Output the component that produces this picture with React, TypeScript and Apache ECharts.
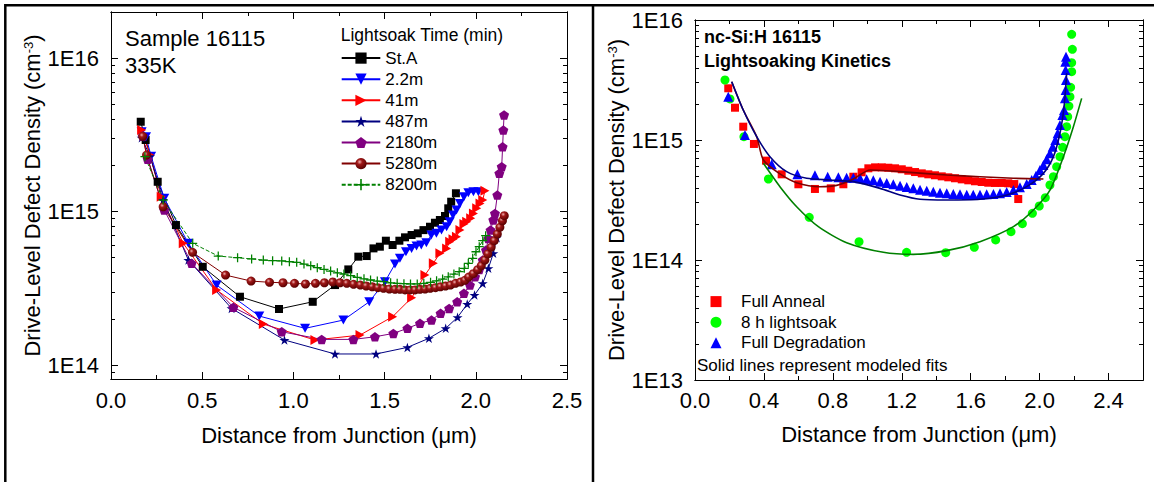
import React, { useEffect, useRef } from 'react';
import * as echarts from 'echarts';

const FONT = '"Liberation Sans", Arial, Helvetica, sans-serif';

// ---- Left panel: [distance from junction (µm), log10 drive-level defect density (cm^-3)]
const stA: [number, number][] = [[0.163,15.585],[0.190,15.466],[0.256,15.194],[0.356,14.912],[0.503,14.640],[0.707,14.445],[0.921,14.365],[1.106,14.412],[1.228,14.521],[1.301,14.623],[1.356,14.706],[1.402,14.710],[1.439,14.760],[1.474,14.771],[1.507,14.810],[1.544,14.782],[1.581,14.810],[1.612,14.832],[1.648,14.847],[1.682,14.858],[1.713,14.879],[1.749,14.901],[1.776,14.927],[1.803,14.945],[1.831,14.971],[1.849,15.021],[1.865,15.064],[1.891,15.119]];
const m2_2: [number, number][] = [[0.168,15.520],[0.192,15.487],[0.220,15.360],[0.292,15.086],[0.424,14.793],[0.579,14.521],[0.813,14.319],[1.064,14.239],[1.274,14.293],[1.416,14.412],[1.502,14.543],[1.557,14.658],[1.584,14.695],[1.617,14.738],[1.648,14.760],[1.675,14.775],[1.701,14.782],[1.729,14.797],[1.756,14.847],[1.784,14.858],[1.812,14.879],[1.840,14.901],[1.857,14.934],[1.875,14.977],[1.894,15.010],[1.913,15.053],[1.935,15.096],[1.959,15.122],[1.987,15.129],[2.014,15.129]];
const m41: [number, number][] = [[0.168,15.531],[0.214,15.368],[0.275,15.096],[0.396,14.793],[0.579,14.489],[0.835,14.267],[1.118,14.163],[1.365,14.195],[1.544,14.315],[1.648,14.438],[1.721,14.586],[1.767,14.663],[1.803,14.728],[1.840,14.760],[1.857,14.803],[1.875,14.819],[1.894,14.836],[1.913,14.879],[1.935,14.919],[1.950,14.934],[1.972,14.956],[1.987,14.988],[2.005,15.021],[2.023,15.053],[2.038,15.075],[2.050,15.135]];
const m487: [number, number][] = [[0.168,15.480],[0.214,15.360],[0.286,15.075],[0.424,14.684],[0.661,14.369],[0.951,14.163],[1.228,14.072],[1.453,14.072],[1.625,14.115],[1.743,14.174],[1.835,14.239],[1.900,14.311],[1.953,14.397],[1.993,14.456],[2.038,14.532],[2.069,14.630],[2.096,14.728],[2.115,14.830]];
const m2180: [number, number][] = [[0.174,15.492],[0.201,15.340],[0.292,15.010],[0.442,14.663],[0.671,14.376],[0.936,14.217],[1.155,14.167],[1.329,14.167],[1.447,14.184],[1.548,14.206],[1.625,14.239],[1.694,14.272],[1.757,14.293],[1.807,14.337],[1.854,14.369],[1.898,14.412],[1.935,14.467],[1.968,14.521],[1.996,14.575],[2.019,14.623],[2.038,14.684],[2.056,14.749],[2.069,14.825],[2.081,14.879],[2.096,14.945],[2.105,14.988],[2.118,15.107],[2.129,15.249],[2.142,15.292],[2.147,15.422],[2.151,15.531],[2.155,15.629]];
const m5280: [number, number][] = [[0.174,15.490],[0.195,15.368],[0.286,15.031],[0.447,14.734],[0.628,14.586],[0.768,14.547],[0.869,14.539],[0.943,14.536],[1.006,14.532],[1.066,14.528],[1.121,14.532],[1.170,14.536],[1.216,14.541],[1.256,14.536],[1.293,14.532],[1.330,14.526],[1.367,14.521],[1.399,14.515],[1.432,14.510],[1.463,14.504],[1.494,14.500],[1.526,14.495],[1.557,14.493],[1.584,14.493],[1.612,14.489],[1.640,14.489],[1.667,14.489],[1.694,14.493],[1.722,14.495],[1.750,14.500],[1.779,14.504],[1.806,14.510],[1.834,14.515],[1.861,14.521],[1.889,14.532],[1.917,14.541],[1.940,14.552],[1.961,14.573],[1.986,14.595],[2.010,14.621],[2.030,14.647],[2.050,14.684],[2.066,14.724],[2.084,14.767],[2.101,14.810],[2.118,14.853],[2.132,14.897],[2.146,14.940],[2.156,14.973]];
const m8200: [number, number][] = [[0.186,15.357],[0.286,15.075],[0.448,14.793],[0.588,14.710],[0.694,14.699],[0.771,14.691],[0.835,14.684],[0.886,14.680],[0.936,14.678],[0.978,14.673],[1.018,14.669],[1.058,14.658],[1.095,14.647],[1.131,14.634],[1.168,14.623],[1.204,14.612],[1.241,14.601],[1.277,14.593],[1.314,14.582],[1.350,14.571],[1.387,14.562],[1.423,14.554],[1.460,14.547],[1.496,14.543],[1.533,14.536],[1.569,14.532],[1.606,14.530],[1.642,14.528],[1.679,14.528],[1.715,14.532],[1.752,14.539],[1.785,14.549],[1.818,14.560],[1.849,14.575],[1.880,14.593],[1.909,14.608],[1.937,14.630],[1.959,14.663],[1.983,14.695],[2.001,14.738],[2.019,14.771],[2.038,14.810],[2.054,14.843]];

// ---- Right panel: [distance (µm), log10 density (cm^-3)]
const fullAnneal: [number, number][] = [[0.193,15.431],[0.232,15.269],[0.280,15.111],[0.342,14.967],[0.412,14.828],[0.503,14.714],[0.600,14.631],[0.696,14.592],[0.788,14.597],[0.861,14.631],[0.919,14.694],[0.967,14.731],[1.006,14.764],[1.045,14.772],[1.084,14.772],[1.122,14.769],[1.161,14.764],[1.200,14.756],[1.238,14.744],[1.277,14.733],[1.316,14.722],[1.354,14.714],[1.393,14.706],[1.432,14.697],[1.470,14.689],[1.509,14.681],[1.548,14.672],[1.586,14.664],[1.625,14.656],[1.664,14.650],[1.702,14.644],[1.741,14.642],[1.780,14.642],[1.818,14.639],[1.853,14.633],[1.876,14.508]];
const lightsoak8h: [number, number][] = [[0.174,15.500],[0.203,15.342],[0.284,15.028],[0.426,14.675],[0.663,14.356],[0.952,14.153],[1.228,14.064],[1.455,14.061],[1.621,14.106],[1.745,14.167],[1.834,14.236],[1.900,14.303],[1.958,14.389],[1.998,14.450],[2.033,14.519],[2.060,14.625],[2.080,14.694],[2.099,14.778],[2.118,14.861],[2.134,14.939],[2.147,15.028],[2.157,15.111],[2.163,15.194],[2.170,15.283],[2.176,15.361],[2.180,15.439],[2.186,15.569],[2.186,15.644],[2.190,15.756],[2.186,15.881]];
const fullDegradation: [number, number][] = [[0.193,15.361],[0.290,15.042],[0.445,14.797],[0.594,14.714],[0.696,14.706],[0.770,14.694],[0.832,14.689],[0.880,14.686],[0.919,14.686],[0.958,14.681],[0.996,14.672],[1.035,14.664],[1.074,14.653],[1.113,14.642],[1.151,14.631],[1.190,14.619],[1.229,14.608],[1.267,14.597],[1.306,14.586],[1.345,14.578],[1.383,14.569],[1.422,14.561],[1.461,14.556],[1.499,14.550],[1.538,14.547],[1.577,14.544],[1.615,14.544],[1.654,14.544],[1.693,14.547],[1.732,14.550],[1.770,14.556],[1.809,14.567],[1.848,14.583],[1.886,14.606],[1.925,14.633],[1.954,14.667],[1.979,14.703],[2.002,14.750],[2.022,14.792],[2.041,14.839],[2.060,14.889],[2.076,14.944],[2.091,15.000],[2.105,15.056],[2.118,15.125],[2.132,15.208],[2.142,15.250],[2.147,15.347],[2.151,15.417],[2.153,15.500],[2.151,15.583],[2.149,15.653],[2.153,15.694]];
const annealFit: [number, number][] = [[0.213,15.486],[0.280,15.250],[0.358,15.028],[0.397,14.833],[0.493,14.717],[0.590,14.644],[0.725,14.611],[0.822,14.622],[0.919,14.675],[1.016,14.750],[1.113,14.744],[1.267,14.728],[1.461,14.708],[1.654,14.694],[1.848,14.681],[2.022,14.675]];
const degradationFit: [number, number][] = [[0.213,15.486],[0.280,15.250],[0.358,15.028],[0.435,14.861],[0.532,14.736],[0.648,14.681],[0.783,14.667],[0.919,14.653],[1.074,14.597],[1.190,14.542],[1.306,14.506],[1.461,14.500],[1.654,14.506],[1.809,14.542],[1.925,14.611],[2.022,14.722],[2.080,14.861],[2.118,15.056],[2.142,15.278],[2.157,15.556]];
const lightsoakFit: [number, number][] = [[0.397,14.806],[0.493,14.611],[0.590,14.444],[0.716,14.278],[0.880,14.144],[1.093,14.064],[1.267,14.047],[1.461,14.078],[1.654,14.153],[1.848,14.278],[1.964,14.417],[2.060,14.583],[2.138,14.861],[2.196,15.111],[2.244,15.347]];

const leftNames = ['St.A', '2.2m', '41m', '487m', '2180m', '5280m', '8200m'];
const rightNames = ['Full Anneal', '8 h lightsoak', 'Full Degradation'];
const leftXTicks = [0, 0.5, 1.0, 1.5, 2.0, 2.5];
const leftXMinor = [0.25, 0.75, 1.25, 1.75, 2.25];
const rightXTicks = [0, 0.4, 0.8, 1.2, 1.6, 2.0, 2.4];
const rightXMinor = [0.2, 0.6, 1.0, 1.4, 1.8, 2.2];
const leftYDecades = [14, 15, 16];
const rightYDecades = [13, 14, 15, 16];

const L_YMIN = 13.909, L_YMAX = 16.30, R_YMIN = 13, R_YMAX = 16;

function minorLog(min: number, max: number) {
  const out: number[] = [];
  for (let d = Math.floor(min); d <= Math.ceil(max); d++) {
    for (let k = 2; k <= 9; k++) {
      const v = d + Math.log10(k);
      if (v > min + 1e-4 && v < max - 1e-4) out.push(v);
    }
  }
  return out;
}

const P = {
  down: 'path://M0,0 L10,0 L5,9 Z',
  right: 'path://M0,0 L9,5 L0,10 Z',
  star: 'path://M50,0 L61.2,34.5 L97.6,34.5 L68.2,55.9 L79.4,90.5 L50,69.1 L20.6,90.5 L31.8,55.9 L2.4,34.5 L38.8,34.5 Z',
  penta: 'path://M50,0 L97.6,34.5 L79.4,90.5 L20.6,90.5 L2.4,34.5 Z',
  plus: 'path://M4.3,0 H5.7 V4.3 H10 V5.7 H5.7 V10 H4.3 V5.7 H0 V4.3 H4.3 Z',
};

function axis(o: any) {
  const a: any = {
    type: 'value', gridIndex: o.grid, position: o.pos, min: o.min, max: o.max,
    axisLine: { show: true, onZero: false, lineStyle: { color: '#000', width: 1 } },
    axisTick: { show: true, inside: true, length: o.len, customValues: o.ticks, lineStyle: { color: '#000', width: 1 } },
    axisLabel: o.labels
      ? { show: true, customValues: o.labels, formatter: o.fmt, color: '#000', fontSize: 22, fontFamily: FONT, margin: o.margin }
      : { show: false },
    splitLine: { show: false },
    minorTick: { show: false },
    minorSplitLine: { show: false },
    silent: true,
  };
  if (o.name) {
    a.name = o.name;
    a.nameLocation = 'middle';
    a.nameGap = o.nameGap;
    a.nameTextStyle = {
      color: '#000', fontFamily: FONT, fontSize: 22,
      rich: {
        a: { fontSize: 22, fontFamily: FONT, color: '#000' },
        s: { fontSize: 13, fontFamily: FONT, color: '#000', verticalAlign: 'top' },
      },
    };
  }
  return a;
}

const Y_NAME = '{a|Drive-Level Defect Density (cm}{s|-3}{a|)}';
const X_NAME = 'Distance from Junction (μm)';

function App() {
  const ref = useRef<HTMLDivElement>(null);
  useEffect(() => {
    if (!ref.current) return;
    const chart = echarts.init(ref.current, null, { renderer: 'svg' });
    const fx = (v: number) => v.toFixed(1);
    const fy = (v: number) => '1E' + Math.round(v);
    const lMinor = minorLog(L_YMIN, L_YMAX);
    const rMinor = minorLog(R_YMIN, R_YMAX);

    const xAxis = [
      axis({ grid: 0, pos: 'bottom', min: 0, max: 2.5, ticks: leftXTicks, len: 7, labels: leftXTicks, fmt: fx, margin: 10, name: X_NAME, nameGap: 45 }),
      axis({ grid: 0, pos: 'bottom', min: 0, max: 2.5, ticks: leftXMinor, len: 4 }),
      axis({ grid: 0, pos: 'top', min: 0, max: 2.5, ticks: leftXTicks, len: 7 }),
      axis({ grid: 0, pos: 'top', min: 0, max: 2.5, ticks: leftXMinor, len: 4 }),
      axis({ grid: 1, pos: 'bottom', min: 0, max: 2.6, ticks: rightXTicks, len: 7, labels: rightXTicks, fmt: fx, margin: 9, name: X_NAME, nameGap: 43 }),
      axis({ grid: 1, pos: 'bottom', min: 0, max: 2.6, ticks: rightXMinor, len: 4 }),
      axis({ grid: 1, pos: 'top', min: 0, max: 2.6, ticks: rightXTicks, len: 7 }),
      axis({ grid: 1, pos: 'top', min: 0, max: 2.6, ticks: rightXMinor, len: 4 }),
    ];
    const yAxis = [
      axis({ grid: 0, pos: 'left', min: L_YMIN, max: L_YMAX, ticks: leftYDecades, len: 7, labels: leftYDecades, fmt: fy, margin: 12, name: Y_NAME, nameGap: 63 }),
      axis({ grid: 0, pos: 'left', min: L_YMIN, max: L_YMAX, ticks: lMinor, len: 4 }),
      axis({ grid: 0, pos: 'right', min: L_YMIN, max: L_YMAX, ticks: leftYDecades, len: 7 }),
      axis({ grid: 0, pos: 'right', min: L_YMIN, max: L_YMAX, ticks: lMinor, len: 4 }),
      axis({ grid: 1, pos: 'left', min: R_YMIN, max: R_YMAX, ticks: rightYDecades, len: 7, labels: rightYDecades, fmt: fy, margin: 12, name: Y_NAME, nameGap: 66 }),
      axis({ grid: 1, pos: 'left', min: R_YMIN, max: R_YMAX, ticks: rMinor, len: 4 }),
      axis({ grid: 1, pos: 'right', min: R_YMIN, max: R_YMAX, ticks: rightYDecades, len: 7 }),
      axis({ grid: 1, pos: 'right', min: R_YMIN, max: R_YMAX, ticks: rMinor, len: 4 }),
    ];

    const lineS = (name: string, data: any, color: any, lineColor: string, symbol: string, size: number, dashed = false) => ({
      name, type: 'line', xAxisIndex: 0, yAxisIndex: 0, data, symbol, symbolSize: size,
      showSymbol: true, symbolKeepAspect: true,
      itemStyle: { color, borderWidth: 0 },
      lineStyle: { color: lineColor, width: 1, type: dashed ? [4, 2] : 'solid' },
      emphasis: { disabled: true }, silent: true,
    });
    const sphere = {
      type: 'radial', x: 0.38, y: 0.35, r: 0.65,
      colorStops: [
        { offset: 0, color: '#f0b0b0' },
        { offset: 0.35, color: '#a01818' },
        { offset: 1, color: '#5a0000' },
      ],
    };
    const scat = (name: string, data: any, color: string, symbol: string, size: number) => ({
      name, type: 'scatter', xAxisIndex: 4, yAxisIndex: 4, data, symbol, symbolSize: size,
      itemStyle: { color, opacity: 1 }, emphasis: { disabled: true }, silent: true,
    });
    const fit = (name: string, data: any, color: string) => ({
      name, type: 'line', xAxisIndex: 4, yAxisIndex: 4, data, symbol: 'none', showSymbol: false,
      smooth: 0.25,
      lineStyle: { color, width: 1.6 }, itemStyle: { color },
      emphasis: { disabled: true }, silent: true,
    });

    const series = [
      lineS('St.A', stA, '#000000', '#000000', 'rect', 8),
      lineS('2.2m', m2_2, '#0000ff', '#0000ff', P.down, 10),
      lineS('41m', m41, '#ff0000', '#ff0000', P.right, 10),
      lineS('487m', m487, '#000080', '#000080', P.star, 10),
      lineS('2180m', m2180, '#800080', '#800080', P.penta, 10),
      lineS('5280m', m5280, sphere, '#800000', 'circle', 9),
      lineS('8200m', m8200, '#008000', '#008000', P.plus, 9, true),
      scat('Full Anneal', fullAnneal, '#ff0000', 'rect', 8),
      scat('8 h lightsoak', lightsoak8h, '#00ff00', 'circle', 9),
      scat('Full Degradation', fullDegradation, '#0000ff', 'triangle', 10),
      fit('Full Anneal fit', annealFit, '#800000'),
      fit('8 h lightsoak fit', lightsoakFit, '#008000'),
      fit('Full Degradation fit', degradationFit, '#000080'),
    ];

    const txt = (text: string, x: number, y: number, size: number, bold = false) => ({
      type: 'text', x, y, silent: true,
      style: {
        text, fill: '#000', fontSize: size, fontFamily: FONT, fontWeight: bold ? 'bold' : 'normal',
        align: 'left', verticalAlign: 'middle', textAlign: 'left', textVerticalAlign: 'middle',
      },
    });
    const frame = (x1: number, y1: number, x2: number, y2: number) => ({
      type: 'line', silent: true, shape: { x1, y1, x2, y2 }, style: { stroke: '#000', lineWidth: 2.5 },
    });

    chart.setOption({
      animation: false,
      backgroundColor: '#ffffff',
      grid: [
        { left: 111, top: 12, width: 456, height: 367, containLabel: false, outerBoundsMode: 'none' },
        { left: 695, top: 20, width: 448, height: 360, containLabel: false, outerBoundsMode: 'none' },
      ],
      xAxis, yAxis, series,
      legend: [
        {
          data: leftNames, orient: 'vertical', left: 340.7, top: 49.6, padding: 0,
          itemWidth: 38.6, itemHeight: 14, itemGap: 4.1, selectedMode: false,
          textStyle: { color: '#000', fontSize: 17, fontFamily: FONT },
        },
        {
          data: rightNames, orient: 'vertical', left: 710.5, top: 293.1, padding: 0,
          itemWidth: 11, itemHeight: 11, itemGap: 3.6, selectedMode: false, symbolKeepAspect: true,
          textStyle: { color: '#000', fontSize: 17, fontFamily: FONT, padding: [0, 0, 0, 14.5] },
        },
      ],
      graphic: [
        frame(5.3, 5.3, 1154, 5.3),
        frame(5.3, 4, 5.3, 482),
        frame(593, 4, 593, 482),
        txt('Sample 16115', 125, 38, 22),
        txt('335K', 125, 65, 22),
        txt('Lightsoak Time (min)', 340.7, 35, 17.5),
        txt('nc-Si:H 16115', 704, 37.3, 18, true),
        txt('Lightsoaking Kinetics', 704, 60.7, 18, true),
        txt('Solid lines represent modeled fits', 697, 365.7, 17),
      ],
    });
    return () => chart.dispose();
  }, []);
  return <div ref={ref} style={{ position: 'absolute', left: 0, top: 0, width: 1154, height: 482 }} />;
}

export default App;
